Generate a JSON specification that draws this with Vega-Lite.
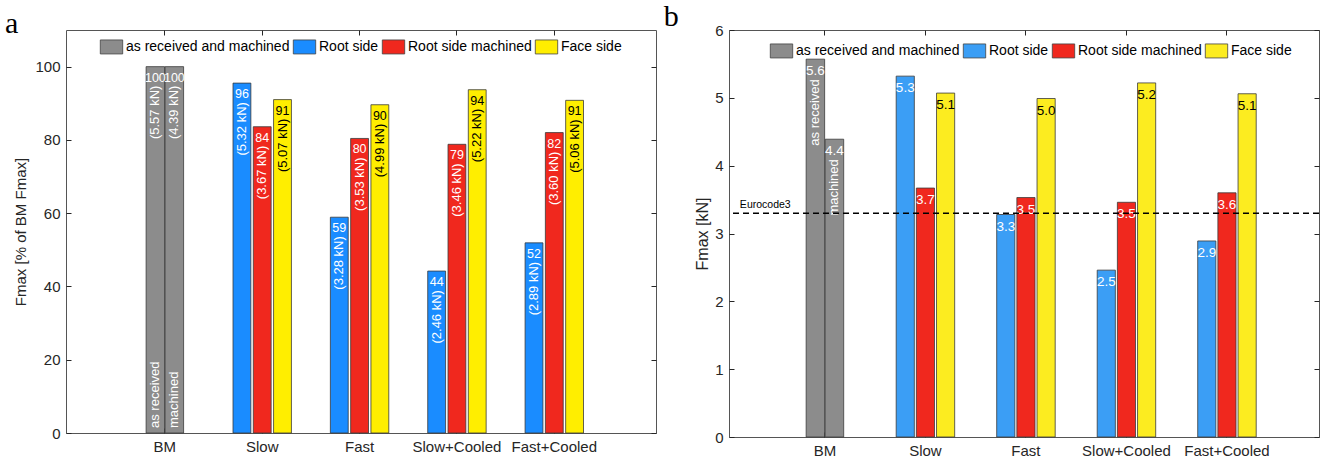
{
  "$schema": "https://vega.github.io/schema/vega-lite/v6.json",
  "background": "white",
  "padding": {"left": 4, "top": 1, "right": 2, "bottom": 2},
  "spacing": 6,
  "config": {
    "font": "Liberation Sans",
    "view": {"stroke": "#555555", "strokeWidth": 1},
    "axis": {
      "labelFont": "Liberation Sans", "labelFontSize": 15, "labelColor": "#262626",
      "titleFont": "Liberation Sans", "titleFontSize": 15, "titleFontWeight": "normal", "titleColor": "#262626",
      "domain": false, "grid": false, "tickColor": "#262626", "tickSize": -5, "labelPadding": 11
    },
    "title": {"font": "Liberation Serif", "fontSize": 30, "fontWeight": "normal", "anchor": "start", "color": "black", "offset": -9},
    "legend": {
      "title": null, "direction": "horizontal", "orient": "none",
      "labelFont": "Liberation Sans", "labelFontSize": 14, "labelColor": "black", "labelLimit": 0,
      "symbolType": "M-1.6,-1H1.6V1H-1.6Z", "symbolSize": 196,
      "symbolStrokeColor": "#444444", "symbolStrokeWidth": 0.8, "symbolOpacity": 1,
      "labelOffset": 7, "columnPadding": 1, "padding": 0
    }
  },
  "datasets": {
    "fmax": [
      {"cond": "BM", "grp": "as received and machined", "series": "as received", "pct": 100, "kN": 5.57},
      {"cond": "BM", "grp": "as received and machined", "series": "machined", "pct": 100, "kN": 4.39},
      {"cond": "Slow", "grp": "Root side", "series": "Root side", "pct": 95.5, "kN": 5.32},
      {"cond": "Slow", "grp": "Root side machined", "series": "Root side machined", "pct": 83.6, "kN": 3.67},
      {"cond": "Slow", "grp": "Face side", "series": "Face side", "pct": 91.0, "kN": 5.07},
      {"cond": "Fast", "grp": "Root side", "series": "Root side", "pct": 58.9, "kN": 3.28},
      {"cond": "Fast", "grp": "Root side machined", "series": "Root side machined", "pct": 80.4, "kN": 3.53},
      {"cond": "Fast", "grp": "Face side", "series": "Face side", "pct": 89.6, "kN": 4.99},
      {"cond": "Slow+Cooled", "grp": "Root side", "series": "Root side", "pct": 44.2, "kN": 2.46},
      {"cond": "Slow+Cooled", "grp": "Root side machined", "series": "Root side machined", "pct": 78.8, "kN": 3.46},
      {"cond": "Slow+Cooled", "grp": "Face side", "series": "Face side", "pct": 93.7, "kN": 5.22},
      {"cond": "Fast+Cooled", "grp": "Root side", "series": "Root side", "pct": 51.9, "kN": 2.89},
      {"cond": "Fast+Cooled", "grp": "Root side machined", "series": "Root side machined", "pct": 82.0, "kN": 3.60},
      {"cond": "Fast+Cooled", "grp": "Face side", "series": "Face side", "pct": 90.8, "kN": 5.06}
    ]
  },
  "resolve": {"scale": {"color": "independent"}, "legend": {"color": "independent"}},
  "hconcat": [
    {
      "title": {"text": "a", "dx": -9},
      "width": 590,
      "height": 403,
      "data": {"name": "fmax"},
      "transform": [{"calculate": "'(' + format(datum.kN, '.2f') + ' kN)'", "as": "kNText"}],
      "resolve": {"scale": {"xOffset": "independent"}, "axis": {"x": "independent", "y": "independent"}},
      "layer": [
        {
          "transform": [{"filter": "datum.cond === 'BM'"}],
          "encoding": {
            "x": {"field": "cond", "type": "nominal",
                  "scale": {"domain": ["BM", "Slow", "Fast", "Slow+Cooled", "Fast+Cooled"], "paddingInner": 0.4, "paddingOuter": 0.73, "align": 0.49},
                  "axis": {"title": null, "labelAngle": 0, "orient": "bottom"}},
            "y": {"field": "pct", "type": "quantitative",
                  "scale": {"domain": [0, 110], "nice": false},
                  "axis": {"title": "Fmax [% of BM Fmax]", "values": [0, 20, 40, 60, 80, 100], "orient": "left", "titlePadding": 6}},
            "xOffset": {"field": "series", "type": "nominal",
                        "scale": {"domain": ["as received", "machined"], "paddingInner": 0.03, "paddingOuter": 0.55}}
          },
          "layer": [
            {
              "mark": {"type": "bar", "stroke": "#3a3a3a", "strokeWidth": 0.8},
              "encoding": {
                "color": {"field": "grp", "type": "nominal",
                          "scale": {"domain": ["as received and machined", "Root side", "Root side machined", "Face side"],
                                    "range": ["#8c8c8c", "#1a8cff", "#f0281e", "#ffee00"]},
                          "legend": {"legendX": 38, "legendY": 9}}
              }
            },
            {
              "mark": {"type": "text", "baseline": "top", "dy": 5, "fontSize": 12.5},
              "encoding": {"text": {"field": "pct", "format": ".0f"}, "color": {"value": "white"}}
            },
            {
              "mark": {"type": "text", "angle": 270, "align": "right", "baseline": "middle", "dx": -19, "fontSize": 13},
              "encoding": {"text": {"field": "kNText"}, "color": {"value": "white"}}
            },
            {
              "mark": {"type": "text", "angle": 270, "align": "left", "baseline": "middle", "dx": 5, "fontSize": 13},
              "encoding": {
                "y": {"datum": 0, "type": "quantitative",
                      "scale": {"domain": [0, 110], "nice": false},
                      "axis": {"title": "Fmax [% of BM Fmax]", "values": [0, 20, 40, 60, 80, 100], "orient": "left", "titlePadding": 6}},
                "text": {"field": "series"}, "color": {"value": "white"}}
            }
          ]
        },
        {
          "transform": [{"filter": "datum.cond !== 'BM'"}],
          "encoding": {
            "x": {"field": "cond", "type": "nominal",
                  "scale": {"domain": ["BM", "Slow", "Fast", "Slow+Cooled", "Fast+Cooled"], "paddingInner": 0.4, "paddingOuter": 0.73, "align": 0.49},
                  "axis": {"title": null, "labels": false, "orient": "top"}},
            "y": {"field": "pct", "type": "quantitative",
                  "scale": {"domain": [0, 110], "nice": false},
                  "axis": {"title": null, "labels": false, "values": [0, 20, 40, 60, 80, 100], "orient": "right"}},
            "xOffset": {"field": "series", "type": "nominal",
                        "scale": {"domain": ["Root side", "Root side machined", "Face side"], "paddingInner": 0.12, "paddingOuter": 0}}
          },
          "layer": [
            {
              "mark": {"type": "bar", "stroke": "#3a3a3a", "strokeWidth": 0.8},
              "encoding": {
                "color": {"field": "grp", "type": "nominal",
                          "scale": {"domain": ["as received and machined", "Root side", "Root side machined", "Face side"],
                                    "range": ["#8c8c8c", "#1a8cff", "#f0281e", "#ffee00"]},
                          "legend": {"legendX": 38, "legendY": 9}}
              }
            },
            {
              "mark": {"type": "text", "baseline": "top", "dy": 5, "fontSize": 12.5},
              "encoding": {"text": {"field": "pct", "format": ".0f"},
                           "color": {"condition": {"test": "datum.grp === 'Face side'", "value": "black"}, "value": "white"}}
            },
            {
              "mark": {"type": "text", "angle": 270, "align": "right", "baseline": "middle", "dx": -19, "fontSize": 13},
              "encoding": {"text": {"field": "kNText"},
                           "color": {"condition": {"test": "datum.grp === 'Face side'", "value": "black"}, "value": "white"}}
            }
          ]
        }
      ]
    },
    {
      "title": {"text": "b", "dx": -31},
      "width": 590,
      "height": 407,
      "data": {"name": "fmax"},
      "resolve": {"scale": {"xOffset": "independent"}, "axis": {"x": "independent", "y": "independent"}},
      "layer": [
        {
          "transform": [{"filter": "datum.cond === 'BM'"}],
          "encoding": {
            "x": {"field": "cond", "type": "nominal",
                  "scale": {"domain": ["BM", "Slow", "Fast", "Slow+Cooled", "Fast+Cooled"], "paddingInner": 0.418, "paddingOuter": 0.644, "align": 0.515},
                  "axis": {"title": null, "labelAngle": 0, "orient": "bottom"}},
            "y": {"field": "kN", "type": "quantitative",
                  "scale": {"domain": [0, 6], "nice": false},
                  "axis": {"title": "Fmax [kN]", "titleFontSize": 16, "values": [0, 1, 2, 3, 4, 5, 6], "orient": "left", "titlePadding": 4}},
            "xOffset": {"field": "series", "type": "nominal",
                        "scale": {"domain": ["as received", "machined"], "paddingInner": 0.03, "paddingOuter": 0.55}}
          },
          "layer": [
            {
              "mark": {"type": "bar", "stroke": "#3a3a3a", "strokeWidth": 0.8},
              "encoding": {
                "color": {"field": "grp", "type": "nominal",
                          "scale": {"domain": ["as received and machined", "Root side", "Root side machined", "Face side"],
                                    "range": ["#8c8c8c", "#3b9ef5", "#f0281e", "#fcec20"]},
                          "legend": {"legendX": 45, "legendY": 13}}
              }
            },
            {
              "mark": {"type": "text", "baseline": "top", "dy": 5, "fontSize": 13.5},
              "encoding": {"text": {"field": "kN", "format": ".1f"}, "color": {"value": "white"}}
            },
            {
              "mark": {"type": "text", "angle": 270, "align": "right", "baseline": "middle", "dx": -20, "fontSize": 13},
              "encoding": {"text": {"field": "series"}, "color": {"value": "white"}}
            }
          ]
        },
        {
          "transform": [{"filter": "datum.cond !== 'BM'"}],
          "encoding": {
            "x": {"field": "cond", "type": "nominal",
                  "scale": {"domain": ["BM", "Slow", "Fast", "Slow+Cooled", "Fast+Cooled"], "paddingInner": 0.418, "paddingOuter": 0.644, "align": 0.515},
                  "axis": {"title": null, "labels": false, "orient": "top"}},
            "y": {"field": "kN", "type": "quantitative",
                  "scale": {"domain": [0, 6], "nice": false},
                  "axis": {"title": null, "labels": false, "values": [0, 1, 2, 3, 4, 5, 6], "orient": "right"}},
            "xOffset": {"field": "series", "type": "nominal",
                        "scale": {"domain": ["Root side", "Root side machined", "Face side"], "paddingInner": 0.1, "paddingOuter": 0}}
          },
          "layer": [
            {
              "mark": {"type": "bar", "stroke": "#3a3a3a", "strokeWidth": 0.8},
              "encoding": {
                "color": {"field": "grp", "type": "nominal",
                          "scale": {"domain": ["as received and machined", "Root side", "Root side machined", "Face side"],
                                    "range": ["#8c8c8c", "#3b9ef5", "#f0281e", "#fcec20"]},
                          "legend": {"legendX": 45, "legendY": 13}}
              }
            },
            {
              "mark": {"type": "text", "baseline": "top", "dy": 5, "fontSize": 13.5},
              "encoding": {"text": {"field": "kN", "format": ".1f"},
                           "color": {"condition": {"test": "datum.grp === 'Face side'", "value": "black"}, "value": "white"}}
            }
          ]
        },
        {
          "data": {"values": [{"label": "Eurocode3", "kN": 3.3}]},
          "layer": [
            {
              "mark": {"type": "rule", "color": "black", "strokeDash": [6, 4], "strokeWidth": 1.5},
              "encoding": {"y": {"field": "kN", "type": "quantitative", "scale": {"domain": [0, 6], "nice": false}, "axis": null}}
            },
            {
              "mark": {"type": "text", "align": "right", "baseline": "bottom", "dx": -5, "dy": -3, "fontSize": 10.5, "color": "black"},
              "encoding": {
                "x": {"datum": "BM", "type": "nominal", "bandPosition": 0,
                      "scale": {"domain": ["BM", "Slow", "Fast", "Slow+Cooled", "Fast+Cooled"], "paddingInner": 0.418, "paddingOuter": 0.644, "align": 0.515},
                      "axis": null},
                "y": {"field": "kN", "type": "quantitative", "scale": {"domain": [0, 6], "nice": false}, "axis": null},
                "text": {"field": "label"}
              }
            }
          ]
        }
      ]
    }
  ]
}
